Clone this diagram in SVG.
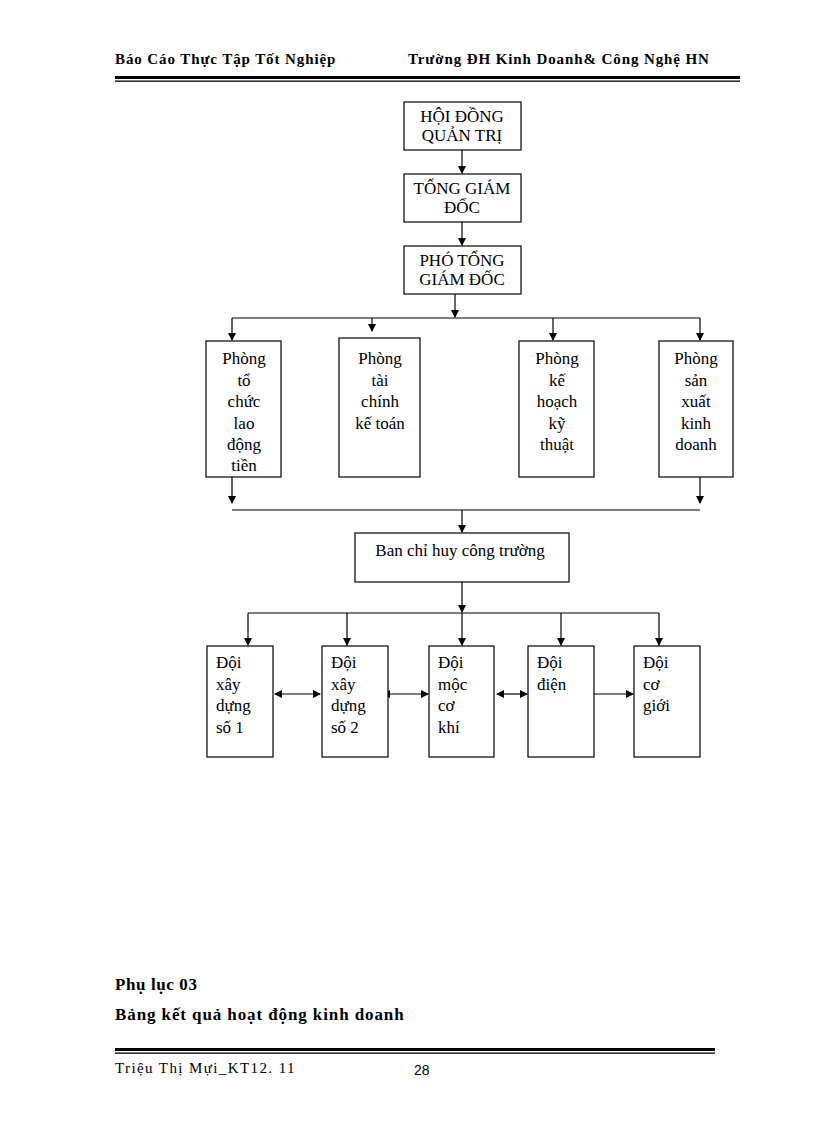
<svg xmlns="http://www.w3.org/2000/svg" width="816" height="1123" viewBox="0 0 816 1123">
<style>
text{font-family:"Liberation Serif",serif;fill:#000}
.h{font-size:15px;font-weight:bold;letter-spacing:0.9px}
.n{font-size:17px;text-anchor:middle}
.l{font-size:17px}
rect{fill:#fff;stroke:#000;stroke-width:1.2}
line{stroke:#000;stroke-width:1.2;fill:none}
.ah{fill:#000;stroke:none}
</style>
<defs>
<marker id="a" markerWidth="8" markerHeight="8" refX="7" refY="4" orient="auto" markerUnits="userSpaceOnUse"><path class="ah" d="M0,0 L8,4 L0,8 Z"/></marker>
<marker id="s" markerWidth="8" markerHeight="8" refX="1" refY="4" orient="auto" markerUnits="userSpaceOnUse"><path class="ah" d="M8,0 L0,4 L8,8 Z"/></marker>
</defs>
<text class="h" x="115" y="64">Báo Cáo Thực Tập Tốt Nghiệp</text>
<text class="h" x="408" y="64">Trường ĐH Kinh Doanh&amp; Công Nghệ HN</text>
<rect x="115" y="76" width="625" height="3" style="fill:#000;stroke:none"/>
<rect x="115" y="80.5" width="625" height="1.3" style="fill:#000;stroke:none"/>
<g id="connectors">
<line x1="462" y1="150" x2="462" y2="173" marker-end="url(#a)"/>
<line x1="462" y1="222" x2="462" y2="245" marker-end="url(#a)"/>
<line x1="455" y1="294" x2="455" y2="317" marker-end="url(#a)"/>
<line x1="232" y1="318" x2="700" y2="318"/>
<line x1="232" y1="318" x2="232" y2="340" marker-end="url(#a)"/>
<line x1="372" y1="318" x2="372" y2="331" marker-end="url(#a)"/>
<line x1="553" y1="318" x2="553" y2="340" marker-end="url(#a)"/>
<line x1="700" y1="318" x2="700" y2="340" marker-end="url(#a)"/>
<line x1="232" y1="477" x2="232" y2="503" marker-end="url(#a)"/>
<line x1="700" y1="477" x2="700" y2="503" marker-end="url(#a)"/>
<line x1="232" y1="510" x2="700" y2="510"/>
<line x1="462" y1="510" x2="462" y2="532" marker-end="url(#a)"/>
<line x1="462" y1="582" x2="462" y2="612" marker-end="url(#a)"/>
<line x1="248" y1="613" x2="659" y2="613"/>
<line x1="248" y1="613" x2="248" y2="645" marker-end="url(#a)"/>
<line x1="347" y1="613" x2="347" y2="645" marker-end="url(#a)"/>
<line x1="462" y1="613" x2="462" y2="645" marker-end="url(#a)"/>
<line x1="561" y1="613" x2="561" y2="645" marker-end="url(#a)"/>
<line x1="659" y1="613" x2="659" y2="645" marker-end="url(#a)"/>
<line x1="275" y1="694" x2="320" y2="694" marker-start="url(#s)" marker-end="url(#a)"/>
<line x1="383" y1="694" x2="428" y2="694" marker-start="url(#s)" marker-end="url(#a)"/>
<line x1="497" y1="694" x2="527" y2="694" marker-start="url(#s)" marker-end="url(#a)"/>
<line x1="587" y1="694" x2="633" y2="694" marker-start="url(#s)" marker-end="url(#a)"/>
</g>
<g id="hdqt"><rect x="404" y="102" width="117" height="48"/><text class="n" x="462" y="122">HỘI ĐỒNG</text><text class="n" x="462" y="141">QUẢN TRỊ</text></g>
<g id="tgd"><rect x="404" y="174" width="117" height="48"/><text class="n" x="462" y="194">TỔNG GIÁM</text><text class="n" x="462" y="213">ĐỐC</text></g>
<g id="ptgd"><rect x="404" y="246" width="117" height="48"/><text class="n" x="462" y="266">PHÓ TỔNG</text><text class="n" x="462" y="285">GIÁM ĐỐC</text></g>
<g id="p1"><rect x="206" y="341" width="75" height="136"/><text class="n" x="244" y="364">Phòng</text><text class="n" x="244" y="386">tổ</text><text class="n" x="244" y="407">chức</text><text class="n" x="244" y="429">lao</text><text class="n" x="244" y="450">động</text><text class="n" x="244" y="471">tiền</text></g>
<g id="p2"><rect x="339" y="338" width="81" height="139"/><text class="n" x="380" y="364">Phòng</text><text class="n" x="380" y="386">tài</text><text class="n" x="380" y="407">chính</text><text class="n" x="380" y="429">kế toán</text></g>
<g id="p3"><rect x="519" y="341" width="75" height="136"/><text class="n" x="557" y="364">Phòng</text><text class="n" x="557" y="386">kế</text><text class="n" x="557" y="407">hoạch</text><text class="n" x="557" y="429">kỹ</text><text class="n" x="557" y="450">thuật</text></g>
<g id="p4"><rect x="659" y="341" width="74" height="136"/><text class="n" x="696" y="364">Phòng</text><text class="n" x="696" y="386">sản</text><text class="n" x="696" y="407">xuất</text><text class="n" x="696" y="429">kinh</text><text class="n" x="696" y="450">doanh</text></g>
<g id="ban"><rect x="355" y="533" width="214" height="49"/><text class="n" x="460" y="556">Ban chỉ huy công trường</text></g>
<g id="d1"><rect x="207" y="646" width="66" height="111"/><text class="l" x="216" y="668">Đội</text><text class="l" x="216" y="690">xây</text><text class="l" x="216" y="711">dựng</text><text class="l" x="216" y="733">số 1</text></g>
<g id="d2"><rect x="322" y="646" width="66" height="111"/><text class="l" x="331" y="668">Đội</text><text class="l" x="331" y="690">xây</text><text class="l" x="331" y="711">dựng</text><text class="l" x="331" y="733">số 2</text></g>
<g id="d3"><rect x="429" y="646" width="65" height="111"/><text class="l" x="438" y="668">Đội</text><text class="l" x="438" y="690">mộc</text><text class="l" x="438" y="711">cơ</text><text class="l" x="438" y="733">khí</text></g>
<g id="d4"><rect x="528" y="646" width="66" height="111"/><text class="l" x="537" y="668">Đội</text><text class="l" x="537" y="690">điện</text></g>
<g id="d5"><rect x="634" y="646" width="66" height="111"/><text class="l" x="643" y="668">Đội</text><text class="l" x="643" y="690">cơ</text><text class="l" x="643" y="711">giới</text></g>
<text class="h" x="115" y="990" style="font-size:17px;letter-spacing:0.6px">Phụ lục 03</text>
<text class="h" x="115" y="1020" style="font-size:17px;letter-spacing:0.9px">Bảng kết quả hoạt động kinh doanh</text>
<rect x="115" y="1048" width="600" height="3" style="fill:#000;stroke:none"/>
<rect x="115" y="1052.5" width="600" height="1.3" style="fill:#000;stroke:none"/>
<text x="115" y="1073" style="font-size:15px;letter-spacing:1.4px">Triệu  Thị Mựi_KT12. 11</text>
<text x="414" y="1075" style="font-size:14px;font-family:'Liberation Sans',sans-serif">28</text>
</svg>
